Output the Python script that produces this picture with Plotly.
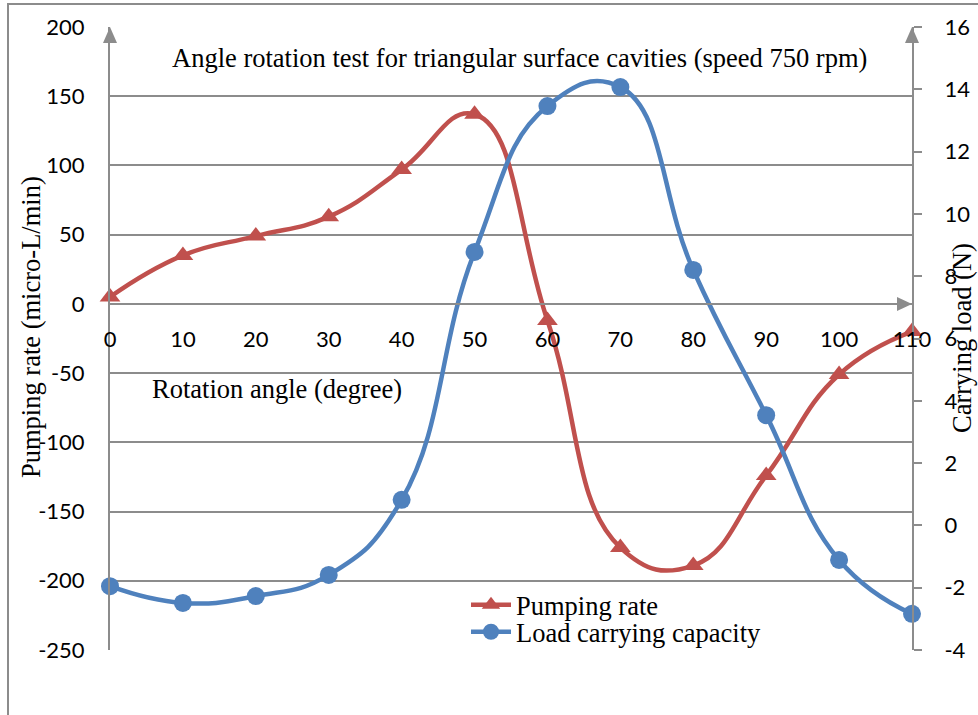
import plotly.graph_objects as go

angles = [0, 10, 20, 30, 40, 50, 60, 70, 80, 90, 100, 110]
pumping_rate = [5, 35, 49, 63, 97, 137, -12, -176, -189, -124, -51, -20]
load_capacity = [-1.95, -2.49, -2.27, -1.59, 0.82, 8.78, 13.46, 14.07, 8.2, 3.54, -1.11, -2.84]

left_ticks = [-250, -200, -150, -100, -50, 0, 50, 100, 150, 200]
right_ticks = [-4, -2, 0, 2, 4, 6, 8, 10, 12, 14, 16]
x_ticks = [0, 10, 20, 30, 40, 50, 60, 70, 80, 90, 100, 110]

RED = "#C0504D"
BLUE = "#4F81BD"
GREY = "#8C8C8C"
SERIF = "Liberation Serif, Times New Roman, serif"
SANS = "Lato"

fig = go.Figure()
fig.add_trace(go.Scatter(
    x=angles, y=pumping_rate, name="Pumping rate", mode="lines+markers",
    line=dict(color=RED, width=4.5, shape="spline", smoothing=1.3),
    marker=dict(symbol="triangle-up", size=18, color=RED),
    cliponaxis=False, yaxis="y", legend="legend"))
fig.add_trace(go.Scatter(
    x=angles, y=load_capacity, name="Load carrying capacity", mode="lines+markers",
    line=dict(color=BLUE, width=4.5, shape="spline", smoothing=1.3),
    marker=dict(symbol="circle", size=18, color=BLUE),
    cliponaxis=False, yaxis="y2", legend="legend2"))

ymin, ymax = -250, 200
xpos = (0 - ymin) / (ymax - ymin)

# plot area in px
L, R, T, B = 110, 66, 27, 65
W, H = 978 - L - R, 715 - T - B

def px_x(dx):
    return dx / W

def px_y(dy):
    return dy / H

shapes = []
# arrow heads
aw, ah = 7, 16
for xp in (0, 1):
    shapes.append(dict(type="path", xref="paper", yref="paper",
                       path=f"M {xp} 1 L {xp - px_x(aw)} {1 - px_y(ah)} L {xp + px_x(aw)} {1 - px_y(ah)} Z",
                       fillcolor=GREY, line=dict(width=0), layer="above"))
shapes.append(dict(type="path", xref="paper", yref="paper",
                   path=f"M 1 {xpos} L {1 - px_x(15)} {xpos + px_y(7)} L {1 - px_x(15)} {xpos - px_y(7)} Z",
                   fillcolor=GREY, line=dict(width=0), layer="above"))
# outer chart border
shapes.append(dict(type="rect", xref="paper", yref="paper",
                   x0=px_x(8 - L), y0=-px_y(90), x1=1 + px_x(100), y1=1 + px_y(T - 4),
                   line=dict(color=GREY, width=2), fillcolor="rgba(0,0,0,0)", layer="below"))

FS = 26.5
annotations = [
    dict(text="Angle rotation test for triangular surface cavities (speed 750 rpm)",
         xref="paper", yref="paper", x=px_x(519 - L), y=1 - px_y(58 - T),
         showarrow=False, font=dict(family=SERIF, size=FS, color="black"),
         xanchor="center", yanchor="middle"),
    dict(text="Rotation angle (degree)",
         xref="paper", yref="paper", x=px_x(277 - L), y=1 - px_y(389 - T),
         showarrow=False, font=dict(family=SERIF, size=FS, color="black"),
         xanchor="center", yanchor="middle"),
    dict(text="Pumping rate (micro-L/min)", textangle=-90,
         xref="paper", yref="paper", x=px_x(31 - L), y=1 - px_y(327 - T),
         showarrow=False, font=dict(family=SERIF, size=FS, color="black"),
         xanchor="center", yanchor="middle"),
    dict(text="Carrying load (N)", textangle=-90,
         xref="paper", yref="paper", x=1 + px_x(962 - (978 - R)), y=1 - px_y(338 - T),
         showarrow=False, font=dict(family=SERIF, size=FS, color="black"),
         xanchor="center", yanchor="middle"),
]

legend_common = dict(xanchor="left", yanchor="middle", bgcolor="rgba(0,0,0,0)",
                     font=dict(family=SERIF, size=FS, color="black"), itemwidth=40)

fig.update_layout(
    width=978, height=715,
    margin=dict(l=L, r=R, t=T, b=B, pad=0, autoexpand=False),
    paper_bgcolor="white", plot_bgcolor="white",
    showlegend=True,
    legend=dict(x=px_x(466 - L), y=1 - px_y(605 - T), **legend_common),
    legend2=dict(x=px_x(466 - L), y=1 - px_y(632 - T), **legend_common),
    xaxis=dict(range=[0, 110], tickvals=x_ticks, ticktext=[str(v) for v in x_ticks],
               showgrid=False, zeroline=False, showline=True, linecolor=GREY, linewidth=2,
               anchor="free", position=xpos, ticks="", ticklabelstandoff=16, automargin=False,
               tickfont=dict(family=SANS, size=22, color="black")),
    yaxis=dict(range=[ymin, ymax], tickvals=left_ticks, ticktext=[str(v) for v in left_ticks],
               showgrid=True, gridcolor=GREY, gridwidth=1.5, zeroline=False, automargin=False,
               showline=True, linecolor=GREY, linewidth=2, ticks="", ticklabelstandoff=19,
               tickfont=dict(family=SANS, size=22, color="black")),
    yaxis2=dict(range=[-4, 16], tickvals=right_ticks, ticktext=[str(v) for v in right_ticks],
                overlaying="y", side="right", showgrid=False, zeroline=False, automargin=False,
                showline=True, linecolor=GREY, linewidth=2, ticks="outside", ticklen=8,
                tickcolor=GREY, tickwidth=2, ticklabelstandoff=18,
                tickfont=dict(family=SANS, size=22, color="black")),
    shapes=shapes, annotations=annotations,
)

fig.write_html("out.html", config={"displayModeBar": False},
               post_script="document.body.style.margin='0';document.body.style.padding='0';document.body.style.overflow='hidden';")
